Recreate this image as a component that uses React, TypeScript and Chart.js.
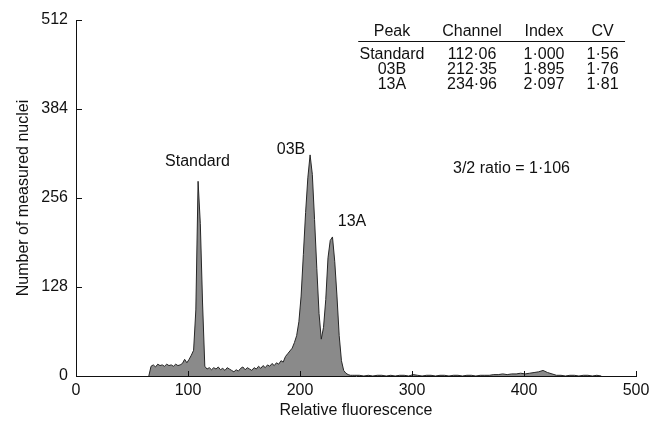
import React, { useEffect, useRef } from "react";
import { Chart, registerables } from "chart.js";

Chart.register(...registerables);

// ---------- data ----------
const channels = [
  65, 67, 69, 71, 73, 75, 77, 79, 81, 83, 85, 87, 89, 91, 93, 95, 97, 99,
  101, 103, 105, 107, 109, 111, 113, 115, 117, 119, 121, 123, 125, 127, 129,
  131, 133, 135, 137, 139, 141, 143, 145, 147, 149, 151, 153, 155, 157, 159,
  161, 163, 165, 167, 169, 171, 173, 175, 177, 179, 181, 183, 185, 187, 189,
  191, 193, 195, 197, 199, 201, 203, 205, 207, 209, 211, 213, 215, 217, 219,
  221, 223, 225, 227, 229, 231, 233, 235, 237, 239, 241, 243, 245, 247, 249,
  253, 257, 261, 265, 269, 273, 277, 281, 285, 289, 293, 297, 301, 305, 309,
  313, 317, 321, 325, 329, 333, 337, 341, 345, 349, 353, 357, 361, 365, 369,
  373, 377, 381, 385, 389, 393, 397, 401, 405, 409, 413, 417, 421, 425, 429,
  433, 437, 441, 445, 449, 453, 457, 461, 465, 469,
];

const counts = [
  0, 14, 16, 13, 17, 15, 16, 14, 17, 15, 16, 14, 17, 15, 16, 18, 24, 19,
  24, 30, 37, 95, 280, 219, 105, 14, 10, 12, 9, 12, 10, 13, 9,
  11, 8, 12, 10, 8, 6, 9, 7, 11, 13, 9, 12, 10, 8, 12,
  10, 14, 11, 15, 12, 16, 14, 18, 15, 19, 17, 22, 20, 28, 32,
  36, 40, 48, 58, 78, 115, 175, 235, 285, 318, 290, 225, 155, 90, 53,
  70, 110, 170, 195, 200, 165, 115, 58, 22, 8, 4, 2, 1, 1, 1,
  1, 0, 1, 0, 1, 1, 0, 1, 0, 1, 1, 0, 2, 1, 0,
  1, 1, 0, 1, 1, 0, 1, 1, 0, 1, 1, 0, 1, 1, 1,
  2, 2, 3, 2, 3, 3, 4, 3, 4, 5, 6, 8, 5, 3, 1,
  1, 0, 1, 1, 0, 1, 1, 0, 1, 0,
];

const xTicks = [0, 100, 200, 300, 400, 500];
const yTicks = [0, 128, 256, 384, 512];

const xTitle = "Relative fluorescence";
const yTitle = "Number of measured nuclei";

const peakLabels = ["Standard", "03B", "13A"];
const ratioText = "3/2 ratio = 1·106";

const tableHeader = ["Peak", "Channel", "Index", "CV"];
const tablePeak = ["Standard", "03B", "13A"];
const tableChannel = ["112·06", "212·35", "234·96"];
const tableIndex = ["1·000", "1·895", "2·097"];
const tableCV = ["1·56", "1·76", "1·81"];

// ---------- layout (data-space anchors) ----------
const peakLabelPos = [
  [108.5, 308],
  [192, 326],
  [246.4, 222],
];
const ratioPos = [336.6, 299];
const tableColX = [282.1, 353.6, 417.9, 470.1];
const tableHeaderY = 496;
const tableRuleY = 482.5;
const tableRuleX = [252, 490.2];
const tableRowY = [461.6, 440, 418.4];

const FONT_FAMILY = '"Liberation Sans", Arial, Helvetica, sans-serif';
const TEXT = "#111111";

const overlayPlugin = {
  id: "overlay",
  afterDraw(chart: any) {
    const ctx = chart.ctx;
    const xs = chart.scales.x;
    const ys = chart.scales.y;
    const area = chart.chartArea;
    ctx.save();
    // inward tick marks
    ctx.strokeStyle = TEXT;
    ctx.lineWidth = 1;
    ctx.beginPath();
    xTicks.forEach((v) => {
      if (v === 0) return;
      const px = Math.round(xs.getPixelForValue(v)) + 0.5;
      ctx.moveTo(px, area.bottom);
      ctx.lineTo(px, area.bottom - 5);
    });
    yTicks.forEach((v) => {
      if (v === 0) return;
      const py = Math.round(ys.getPixelForValue(v)) + 0.5;
      ctx.moveTo(area.left, py);
      ctx.lineTo(area.left + 6, py);
    });
    ctx.stroke();

    ctx.fillStyle = TEXT;
    ctx.font = `16px ${FONT_FAMILY}`;
    ctx.textBaseline = "middle";
    ctx.textAlign = "center";
    peakLabels.forEach((t, i) => {
      ctx.fillText(t, xs.getPixelForValue(peakLabelPos[i][0]), ys.getPixelForValue(peakLabelPos[i][1]));
    });
    ctx.textAlign = "left";
    ctx.fillText(ratioText, xs.getPixelForValue(ratioPos[0]), ys.getPixelForValue(ratioPos[1]));

    // table
    ctx.textAlign = "center";
    tableHeader.forEach((t, i) => {
      ctx.fillText(t, xs.getPixelForValue(tableColX[i]), ys.getPixelForValue(tableHeaderY));
    });
    const cols = [tablePeak, tableChannel, tableIndex, tableCV];
    tableRowY.forEach((ry, r) => {
      cols.forEach((col, c) => {
        ctx.fillText(col[r], xs.getPixelForValue(tableColX[c]), ys.getPixelForValue(ry));
      });
    });
    ctx.beginPath();
    const ry = Math.round(ys.getPixelForValue(tableRuleY)) + 0.5;
    ctx.moveTo(xs.getPixelForValue(tableRuleX[0]), ry);
    ctx.lineTo(xs.getPixelForValue(tableRuleX[1]), ry);
    ctx.lineWidth = 1.2;
    ctx.stroke();
    ctx.restore();
  },
};

export default function App() {
  const canvasRef = useRef<HTMLCanvasElement | null>(null);

  useEffect(() => {
    document.body.style.margin = "0";
    const canvas = canvasRef.current;
    if (!canvas) return;
    const points = channels.map((c, i) => ({ x: c, y: counts[i] }));
    const font = { family: FONT_FAMILY, size: 16 };
    const chart = new Chart(canvas, {
      type: "line",
      data: {
        datasets: [
          {
            data: points,
            borderColor: "#262626",
            borderWidth: 1,
            backgroundColor: "#8a8a8a",
            fill: "origin",
            pointRadius: 0,
            tension: 0,
          },
        ],
      },
      options: {
        responsive: false,
        animation: false,
        devicePixelRatio: 1,
        layout: { padding: { left: 0, top: 20, right: 21, bottom: 0 } },
        plugins: { legend: { display: false }, tooltip: { enabled: false } },
        scales: {
          x: {
            type: "linear",
            min: 0,
            max: 500,
            afterBuildTicks: (s: any) => {
              s.ticks = xTicks.map((v) => ({ value: v }));
            },
            afterFit: (s: any) => {
              s.height = 45;
            },
            grid: { display: false, drawTicks: false },
            border: { display: true, color: TEXT, width: 1, z: 1 },
            ticks: { color: TEXT, font, padding: 5, maxRotation: 0, autoSkip: false },
            title: {
              display: true,
              text: xTitle,
              color: TEXT,
              font,
              padding: { top: 0, bottom: 1 },
            },
          },
          y: {
            type: "linear",
            min: 0,
            max: 512,
            afterBuildTicks: (s: any) => {
              s.ticks = yTicks.map((v) => ({ value: v }));
            },
            afterFit: (s: any) => {
              s.width = 76;
            },
            grid: { display: false, drawTicks: false },
            border: { display: true, color: TEXT, width: 1, z: 1 },
            ticks: { color: TEXT, font, padding: 8, autoSkip: false },
            title: {
              display: true,
              text: yTitle,
              color: TEXT,
              font,
              padding: { top: 14, bottom: 0 },
            },
          },
        },
      },
      plugins: [overlayPlugin],
    });
    return () => chart.destroy();
  }, []);

  return (
    <div style={{ position: "fixed", left: 0, top: 0, width: 657, height: 421, background: "#fff" }}>
      <canvas ref={canvasRef} width={657} height={421} style={{ width: 657, height: 421 }} />
    </div>
  );
}
